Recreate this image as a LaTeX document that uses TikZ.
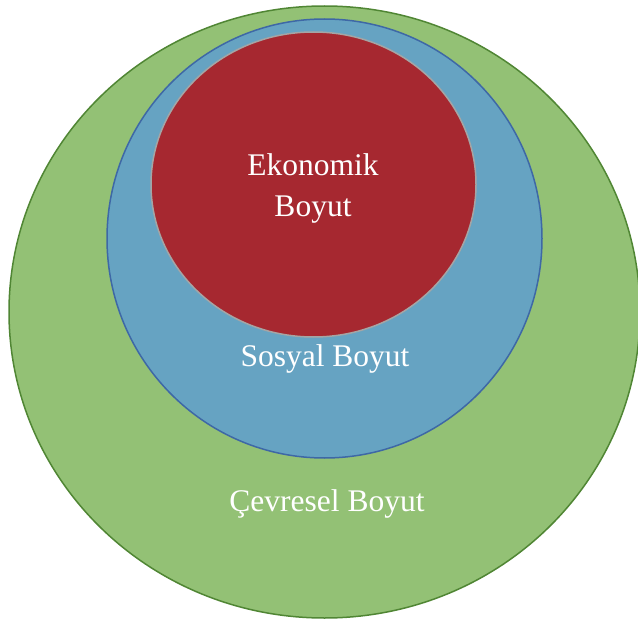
\documentclass[tikz,border=0pt]{standalone}
\usepackage{fontspec}
\setmainfont{Liberation Serif}
\usepackage{xcolor}
\usetikzlibrary{shapes,positioning}
\definecolor{envgreen}{RGB}{147,193,117}
\definecolor{envgreenline}{RGB}{80,134,52}
\definecolor{socblue}{RGB}{102,163,194}
\definecolor{socblueline}{RGB}{62,104,166}
\definecolor{ecored}{RGB}{166,40,48}
\definecolor{ecoredline}{RGB}{165,165,165}

\begin{document}
\begin{tikzpicture}[
    x=1pt, y=-1pt,
    dimension/.style={ellipse, line width=1.5pt, inner sep=0pt},
    dimtext/.style={font=\fontsize{31.5}{41}\selectfont, text=white, align=center}
]
    \useasboundingbox (0,0) rectangle (638,626);
    \clip (0,0) rectangle (638,626);

    % Nested dimensions
    \node[dimension, draw=envgreenline, fill=envgreen, minimum width=631pt, minimum height=612pt] (cevre) at (324.5,312) {};
    \node[dimension, draw=socblueline, fill=socblue, minimum width=435pt, minimum height=439pt] (sosyal) at (324.5,238.5) {};
    \node[dimension, draw=ecoredline, fill=ecored, minimum width=325pt, minimum height=305pt] (ekonomik) at (313.5,184.5) {};

    % Labels
    \node[dimtext] (ekonomikL) at (313,188) {Ekonomik\\Boyut};
    \node[dimtext] (sosyalL) at (325,359) {Sosyal Boyut};
    \node[dimtext] (cevreL) at (327,504) {Çevresel Boyut};
\end{tikzpicture}
\end{document}
